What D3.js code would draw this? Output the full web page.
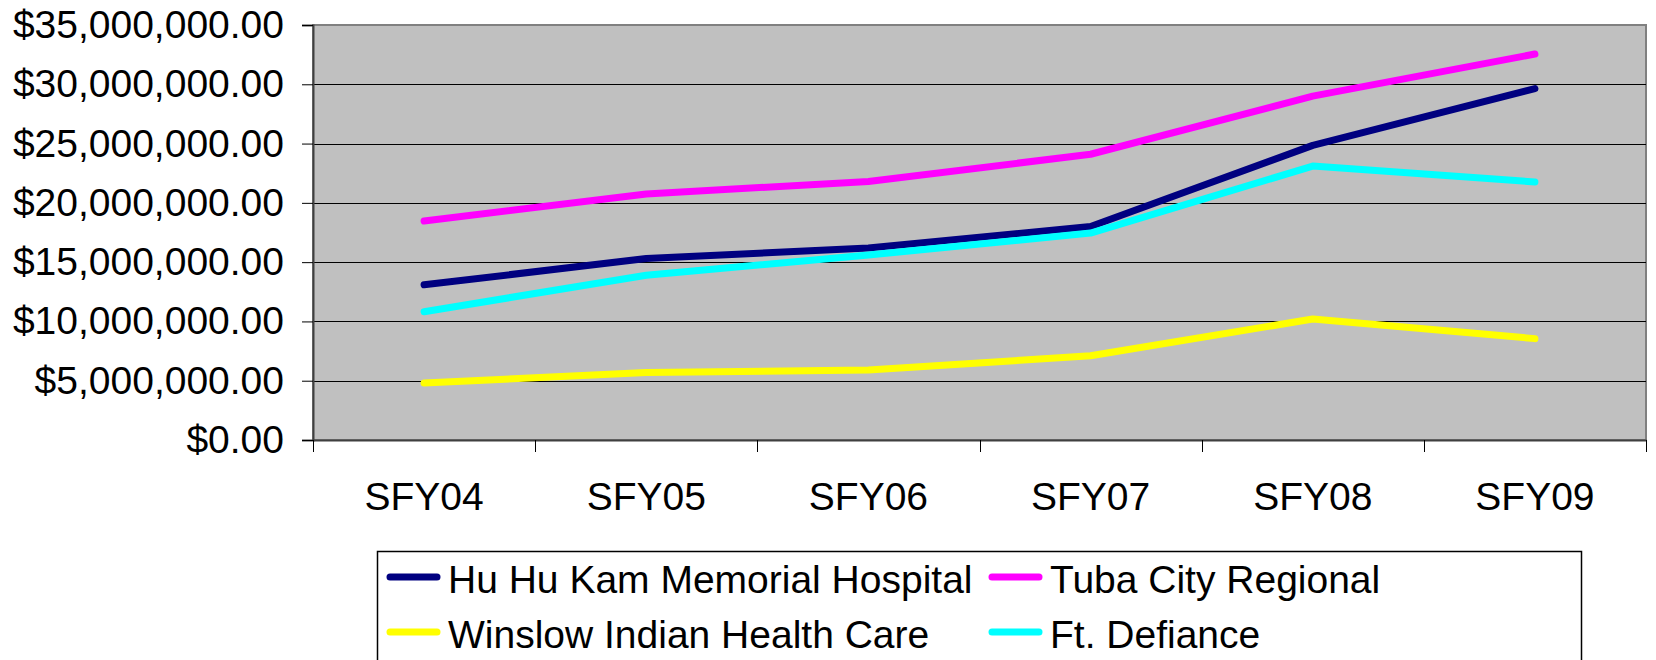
<!DOCTYPE html>
<html lang="en">
<head>
  <meta charset="UTF-8">
  <title>SFY04-SFY09</title>
  <style>
    body { margin: 0; padding: 0; background: #fff; }
    svg { display: block; font-family: "Liberation Sans", Arial, sans-serif; }
  </style>
</head>
<body>
<svg width="1656" height="660"></svg>
<script src="https://d3js.org/d3.v7.min.js"></script>
<script>
const years = ["SFY04", "SFY05", "SFY06", "SFY07", "SFY08", "SFY09"];
const yTicks = [0, 5e6, 10e6, 15e6, 20e6, 25e6, 30e6, 35e6];

const huHuKam = [13.09e6, 15.3e6, 16.2e6, 18.0e6, 24.85e6, 29.63e6];
const tubaCity = [18.47e6, 20.75e6, 21.8e6, 24.1e6, 29.0e6, 32.55e6];
const winslow = [4.8e6, 5.7e6, 5.9e6, 7.1e6, 10.2e6, 8.55e6];
const ftDefiance = [10.82e6, 13.9e6, 15.6e6, 17.45e6, 23.1e6, 21.76e6];

const series = [
  {name: "Hu Hu Kam Memorial Hospital", values: huHuKam, color: "#000080"},
  {name: "Tuba City Regional", values: tubaCity, color: "#ff00ff"},
  {name: "Winslow Indian Health Care", values: winslow, color: "#ffff00"},
  {name: "Ft. Defiance", values: ftDefiance, color: "#00ffff"}
];

const plot = {left: 313, top: 25, right: 1646, bottom: 440};
const svg = d3.select("svg");

const x = d3.scaleBand().domain(years).range([plot.left, plot.right]);
const y = d3.scaleLinear().domain([0, 35e6]).range([plot.bottom, plot.top]);

// plot area
svg.append("rect")
  .attr("x", plot.left).attr("y", plot.top)
  .attr("width", plot.right - plot.left).attr("height", plot.bottom - plot.top)
  .attr("fill", "#c0c0c0")
  .attr("stroke", "#808080").attr("stroke-width", 2);

// gridlines
svg.append("g")
  .selectAll("line")
  .data(yTicks.filter(d => d > 0 && d < 35e6))
  .join("line")
  .attr("x1", plot.left).attr("x2", plot.right)
  .attr("y1", d => Math.round(y(d)) + 0.5).attr("y2", d => Math.round(y(d)) + 0.5)
  .attr("stroke", "#000").attr("stroke-width", 1);

// y axis
const fmt = d3.format("$,.2f");
const yAxis = svg.append("g")
  .attr("transform", `translate(${plot.left},0)`)
  .call(d3.axisLeft(y).tickValues(yTicks).tickFormat(fmt).tickSize(11).tickPadding(18));
yAxis.select(".domain").attr("stroke", "#404040").attr("stroke-width", 2);
yAxis.selectAll(".tick line").attr("stroke", "#000");
yAxis.selectAll(".tick text")
  .attr("font-size", 39).attr("fill", "#000")
  .attr("font-family", "Liberation Sans, Arial, sans-serif");

// x axis
const xAxis = svg.append("g")
  .attr("transform", `translate(0,${plot.bottom})`)
  .call(d3.axisBottom(x).tickSize(0).tickPadding(42));
xAxis.select(".domain").attr("stroke", "#404040").attr("stroke-width", 2);
xAxis.selectAll(".tick text")
  .attr("font-size", 39).attr("fill", "#000")
  .attr("font-family", "Liberation Sans, Arial, sans-serif");

// category boundary ticks
const bounds = years.map(d => x(d)).concat([plot.right]);
svg.append("g")
  .selectAll("line")
  .data(bounds)
  .join("line")
  .attr("x1", d => Math.round(d) + 0.5).attr("x2", d => Math.round(d) + 0.5)
  .attr("y1", plot.bottom).attr("y2", plot.bottom + 12)
  .attr("stroke", "#000").attr("stroke-width", 1);

// lines
const line = d3.line()
  .x((d, i) => x(years[i]) + x.bandwidth() / 2)
  .y(d => y(d));

svg.append("g")
  .selectAll("path")
  .data(series)
  .join("path")
  .attr("d", d => line(d.values))
  .attr("fill", "none")
  .attr("stroke", d => d.color)
  .attr("stroke-width", 7)
  .attr("stroke-linecap", "round")
  .attr("stroke-linejoin", "round");

// legend
const legend = svg.append("g");
legend.append("rect")
  .attr("x", 377.5).attr("y", 551.5)
  .attr("width", 1204).attr("height", 140)
  .attr("fill", "#fff").attr("stroke", "#000").attr("stroke-width", 1.5);

const item = legend.selectAll("g.item")
  .data(series)
  .join("g")
  .attr("class", "item")
  .attr("transform", (d, i) => `translate(${387 + (i % 2) * 602},${577 + Math.floor(i / 2) * 55})`);

item.append("line")
  .attr("x1", 3).attr("x2", 50)
  .attr("stroke", d => d.color)
  .attr("stroke-width", 7)
  .attr("stroke-linecap", "round");

item.append("text")
  .attr("x", 61).attr("y", 16)
  .attr("font-size", 39)
  .attr("fill", "#000")
  .text(d => d.name);
</script>
</body>
</html>
